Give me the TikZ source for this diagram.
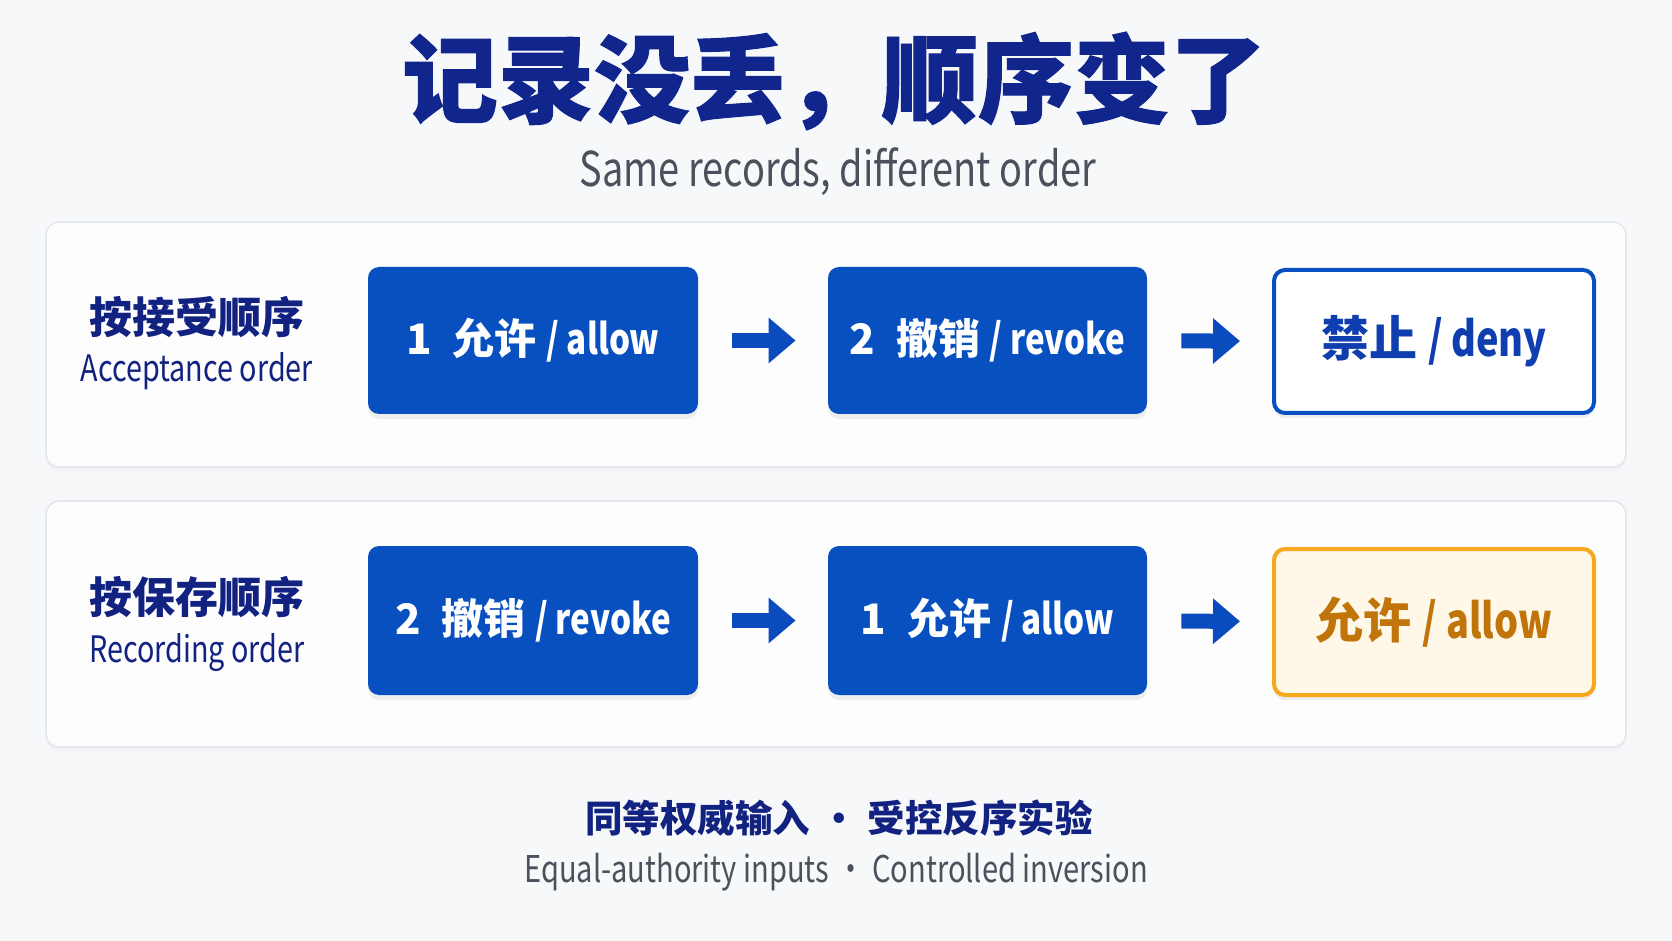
\documentclass[tikz,border=0pt]{standalone}
\usepackage{fontspec}
\setmainfont{Noto Sans CJK SC}
\newfontfamily\narrowfont{Noto Sans CJK SC}[FakeStretch=0.79]
\newfontfamily\heavyfont{Noto Sans CJK SC}[BoldFeatures={FakeBold=1}]
\usetikzlibrary{arrows.meta,shadows}
\definecolor{bgcol}{RGB}{247,248,250}
\definecolor{panelfill}{RGB}{253,253,254}
\definecolor{panelline}{RGB}{228,231,237}
\definecolor{boxblue}{RGB}{8,80,192}
\definecolor{arrowblue}{RGB}{10,75,190}
\definecolor{titlenavy}{RGB}{16,38,140}
\definecolor{labnavy}{RGB}{18,34,128}
\definecolor{subgray}{RGB}{74,80,92}
\definecolor{denyblue}{RGB}{14,62,175}
\definecolor{orangeline}{RGB}{246,168,28}
\definecolor{orangefill}{RGB}{255,248,233}
\definecolor{orangetext}{RGB}{192,116,10}

\begin{document}
\begin{tikzpicture}[x=0.5pt,y=-0.5pt,
  panel/.style={draw=panelline,line width=0.8pt,fill=panelfill,rounded corners=6.5pt,
    drop shadow={opacity=0.05,shadow xshift=0pt,shadow yshift=-2pt}},
  stepbox/.style={rounded corners=5.5pt,inner sep=0pt,minimum height=73.5pt,
    drop shadow={opacity=0.12,shadow xshift=0pt,shadow yshift=-2.5pt}},
  solidbox/.style={stepbox,fill=boxblue,text=white,font=\bfseries\fontsize{21}{25}\selectfont},
  denybox/.style={stepbox,draw=boxblue,line width=2pt,fill=white,text=denyblue,
    minimum height=71.5pt,font=\bfseries\fontsize{24}{28}\selectfont},
  allowbox/.style={stepbox,draw=orangeline,line width=2pt,fill=orangefill,text=orangetext,
    minimum height=73pt,font=\bfseries\fontsize{24}{28}\selectfont},
  labcn/.style={text=labnavy,inner sep=0pt,font=\bfseries\fontsize{21.5}{25}\selectfont},
  laben/.style={text=labnavy,inner sep=0pt,anchor=base,font=\narrowfont\fontsize{18.2}{22}\selectfont},
  flow/.style={draw=arrowblue,line width=7.5pt,-{Triangle[length=13.5pt,width=22pt]},
    shorten <=17pt,shorten >=16pt}]
\fill[bgcol] (0,0) rectangle (1672,941);
%
\node[text=titlenavy,inner sep=0pt,font=\heavyfont\bfseries\fontsize{48}{56}\selectfont]
  (title) at (834,81) {记录没丢，顺序变了};
\node[text=subgray,inner sep=0pt,anchor=base,font=\narrowfont\fontsize{24}{28}\selectfont]
  (subtitle) at (838,187) {Same records, different order};
%
\draw[panel] (46,222) rectangle (1626,467);
\draw[panel] (46,501) rectangle (1626,747);
%
\node[labcn] (labA) at (197,317) {按接受顺序};
\node[laben] (labAen) at (197,382) {Acceptance order};
\node[solidbox,minimum width=165pt] (a1) at (533,340.5) {1\enspace 允许 {\narrowfont / allow}};
\node[solidbox,minimum width=159.5pt] (a2) at (987.5,340.5) {2\enspace 撤销 {\narrowfont / revoke}};
\node[denybox,minimum width=160pt] (a3) at (1434,341.5) {禁止 {\narrowfont / deny}};
%
\node[labcn] (labB) at (197,597) {按保存顺序};
\node[laben] (labBen) at (197,662) {Recording order};
\node[solidbox,minimum width=165pt,minimum height=74.5pt] (b1) at (533,620.5) {2\enspace 撤销 {\narrowfont / revoke}};
\node[solidbox,minimum width=159.5pt,minimum height=74.5pt] (b2) at (987.5,620.5) {1\enspace 允许 {\narrowfont / allow}};
\node[allowbox,minimum width=160pt] (b3) at (1434,622) {允许 {\narrowfont / allow}};
%
\foreach \a/\b in {a1/a2,a2/a3,b1/b2,b2/b3}
  \draw[flow] (\a) -- (\b);
%
\node[text=labnavy,inner sep=0pt,font=\bfseries\fontsize{18.75}{22}\selectfont]
  (foot) at (839,818.5) {同等权威输入\hspace{0.27em}·\hspace{0.27em}受控反序实验};
\node[text=subgray,inner sep=0pt,anchor=base,font=\narrowfont\fontsize{18.4}{22}\selectfont]
  (footen) at (836,882) {Equal-authority inputs\hspace{0.19em}·\hspace{0.19em}Controlled inversion};
\end{tikzpicture}
\end{document}
